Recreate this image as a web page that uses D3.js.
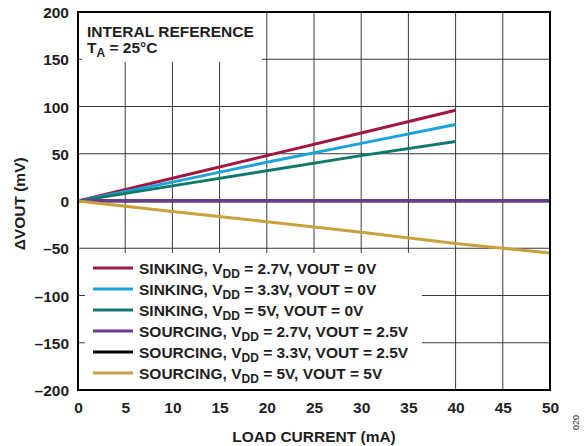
<!DOCTYPE html>
<html><head><meta charset="utf-8">
<script src="https://cdn.jsdelivr.net/npm/d3@7"></script>
<style>
html,body{margin:0;padding:0;background:#fff;}
text{font-family:"Liberation Sans",Arial,sans-serif;font-weight:bold;fill:#1e1e1e;}
</style></head>
<body><svg id="c" width="585" height="446"></svg>
<script>
const xTicks = [0,5,10,15,20,25,30,35,40,45,50];
const yTicks = [-200,-150,-100,-50,0,50,100,150,200];
const loadCurrent40 = [0,10,20,30,40];
const loadCurrent50 = [0,10,20,30,40,50];
const sink27 = [0,24,48,72,96];
const sink33 = [0,20,41,61,81];
const sink5 = [0,16,32,48,63];
const src27 = [0.6,0.6,0.6,0.6,0.6,0.6];
const src33 = [0,0,0,0,0,0];
const src5 = [0,-11,-22,-33,-45,-55];
const seriesNames = [
  ["SINKING, V","DD"," = 2.7V, VOUT = 0V"],
  ["SINKING, V","DD"," = 3.3V, VOUT = 0V"],
  ["SINKING, V","DD"," = 5V, VOUT = 0V"],
  ["SOURCING, V","DD"," = 2.7V, VOUT = 2.5V"],
  ["SOURCING, V","DD"," = 3.3V, VOUT = 2.5V"],
  ["SOURCING, V","DD"," = 5V, VOUT = 5V"]
];
const colors = ["#a3173f","#1ba3dc","#0f7a6c","#6e3a8e","#000000","#c9a03a"];

const series = [
  {x:loadCurrent40,y:sink27},
  {x:loadCurrent40,y:sink33},
  {x:loadCurrent40,y:sink5},
  {x:loadCurrent50,y:src33},
  {x:loadCurrent50,y:src27},
  {x:loadCurrent50,y:src5}
];
const colorOrder = [0,1,2,4,3,5];
const FS = "15.5px";

const svg = d3.select("#c");
const L=78,T=12,W=472,H=378;
const x = d3.scaleLinear().domain([0,50]).range([L,L+W]);
const y = d3.scaleLinear().domain([-200,200]).range([T+H,T]);

const g = svg.append("g");
g.selectAll(".vg").data(xTicks.slice(1,-1)).join("line")
  .attr("x1",d=>x(d)).attr("x2",d=>x(d)).attr("y1",T).attr("y2",T+H)
  .attr("stroke","#3a3a3a").attr("stroke-width",1);
g.selectAll(".hg").data(yTicks.slice(1,-1)).join("line")
  .attr("x1",L).attr("x2",L+W).attr("y1",d=>y(d)).attr("y2",d=>y(d))
  .attr("stroke","#3a3a3a").attr("stroke-width",1);

svg.append("rect").attr("x",82).attr("y",T).attr("width",180).attr("height",50).attr("fill","#fff");
svg.append("rect").attr("x",85).attr("y",253).attr("width",337).attr("height",T+H-253).attr("fill","#fff");

const line = d3.line().x(d=>x(d[0])).y(d=>y(d[1]));
series.forEach((s,i)=>{
  const pts = s.x.map((v,j)=>[v,s.y[j]]);
  svg.append("path").attr("d",line(pts)).attr("fill","none")
    .attr("stroke",colors[colorOrder[i]]).attr("stroke-width",3);
});

svg.append("rect").attr("x",L).attr("y",T).attr("width",W).attr("height",H)
  .attr("fill","none").attr("stroke","#000").attr("stroke-width",2);

const xAxis = d3.axisBottom(x).tickValues(xTicks).tickSize(0).tickPadding(0);
const xa = svg.append("g").attr("transform",`translate(0,${T+H})`).call(xAxis);
xa.select(".domain").remove();
xa.selectAll("text").attr("dy",null).attr("y",23).style("font-size",FS).style("font-family",'"Liberation Sans",Arial,sans-serif').style("font-weight","bold").attr("fill","#1e1e1e");

const yAxis = d3.axisLeft(y).tickValues(yTicks).tickSize(0).tickPadding(0)
  .tickFormat(d=> d<0 ? "\u2013"+Math.abs(d) : d);
const ya = svg.append("g").attr("transform",`translate(${L-9},0)`).call(yAxis);
ya.select(".domain").remove();
ya.selectAll("text").attr("dy","0.36em").attr("x",0).style("font-size",FS).style("font-family",'"Liberation Sans",Arial,sans-serif').style("font-weight","bold").attr("fill","#1e1e1e");

svg.append("text").attr("x",x(25)).attr("y",442).attr("text-anchor","middle")
  .style("font-size",FS).text("LOAD CURRENT (mA)");
svg.append("text").attr("transform",`translate(25,${y(-3)}) rotate(-90)`).attr("text-anchor","middle")
  .style("font-size",FS).text("\u0394VOUT (mV)");

svg.append("text").attr("x",87).attr("y",37).style("font-size",FS).text("INTERAL REFERENCE");
const t2 = svg.append("text").attr("x",87).attr("y",53).style("font-size",FS);
t2.append("tspan").text("T");
t2.append("tspan").attr("dy",4).style("font-size","12px").text("A");
t2.append("tspan").attr("dy",-4).text(" = 25\u00b0C");

seriesNames.forEach((n,i)=>{
  const yy = 268 + i*21;
  svg.append("line").attr("x1",93).attr("x2",133).attr("y1",yy).attr("y2",yy)
    .attr("stroke",colors[i]).attr("stroke-width",3);
  const t = svg.append("text").attr("x",139).attr("y",yy+5.5).style("font-size",FS);
  t.append("tspan").text(n[0]);
  t.append("tspan").attr("dy",4).style("font-size","12px").text(n[1]);
  t.append("tspan").attr("dy",-4).text(n[2]);
});

svg.append("text").attr("transform","translate(579,430) rotate(-90)")
  .style("font-size","9px").style("font-weight","normal").attr("fill","#888").text("020");
</script></body></html>
